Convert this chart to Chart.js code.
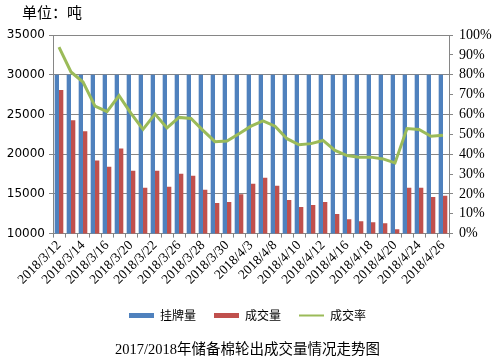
<!DOCTYPE html>
<html>
<head>
<meta charset="utf-8">
<script src="https://cdn.jsdelivr.net/npm/chart.js@4.4.0/dist/chart.umd.min.js"></script>
<style>
  html, body { margin: 0; padding: 0; background: #fff; }
  #wrap { width: 495px; height: 362px; position: relative; }
</style>
</head>
<body>
<div id="wrap"><canvas id="chart"></canvas></div>
<script>
// 交易日
const dates = [
    '2018/3/12', '2018/3/13', '2018/3/14', '2018/3/15', '2018/3/16',
    '2018/3/19', '2018/3/20', '2018/3/21', '2018/3/22', '2018/3/23',
    '2018/3/26', '2018/3/27', '2018/3/28', '2018/3/29', '2018/3/30',
    '2018/4/2', '2018/4/3', '2018/4/4', '2018/4/8', '2018/4/9',
    '2018/4/10', '2018/4/11', '2018/4/12', '2018/4/13', '2018/4/16',
    '2018/4/17', '2018/4/18', '2018/4/19', '2018/4/20', '2018/4/23',
    '2018/4/24', '2018/4/25', '2018/4/26'
];

// 挂牌量 (吨)
const listed = [
    30000, 30000, 30000, 30000, 30000, 30000, 30000, 30000, 30000, 30000,
    30000, 30000, 30000, 30000, 30000, 30000, 30000, 30000, 30000, 30000,
    30000, 30000, 30000, 30000, 30000, 30000, 30000, 30000, 30000, 30000,
    30000, 30000, 30000
];

// 成交量 (吨)
const traded = [
    28090, 24280, 22880, 19200, 18430, 20720, 17920, 15760, 17920, 15890,
    17540, 17290, 15510, 13860, 13980, 14960, 16270, 17030, 16020, 14240,
    13350, 13600, 13980, 12460, 11820, 11570, 11440, 11310, 10550, 15760,
    15760, 14620, 14750
];

// 成交率 (%)
const rate = [
    93.9, 81.4, 76.3, 64.2, 61.4, 69.5, 60.5, 52.5, 60.2, 53.2,
    58.5, 58.0, 52.0, 46.3, 46.6, 50.3, 54.1, 56.8, 54.1, 47.8,
    44.7, 45.3, 46.9, 41.9, 39.3, 38.5, 38.5, 37.6, 35.6, 52.9,
    52.4, 49.0, 49.5
];

const leftTicks = [10000, 15000, 20000, 25000, 30000, 35000];
const rightTicks = [0, 10, 20, 30, 40, 50, 60, 70, 80, 90, 100];

const axisGray = '#868686';
const cjk = '"Noto Sans CJK SC", sans-serif';
const serif = '"Liberation Serif", "Noto Sans CJK SC", serif';

// "单位：吨" label in the top-left corner
const unitLabel = {
    id: 'unitLabel',
    afterDraw(chart) {
        const ctx = chart.ctx;
        ctx.save();
        ctx.fillStyle = '#000';
        ctx.font = '15px ' + cjk;
        ctx.textBaseline = 'middle';
        ctx.fillText('单位：吨', 22, 12);
        ctx.restore();
    }
};

document.addEventListener('DOMContentLoaded', function() {
    const ctx = document.getElementById('chart').getContext('2d');
    new Chart(ctx, {
        type: 'bar',
        data: {
            labels: dates,
            datasets: [{
                label: '挂牌量',
                data: listed,
                backgroundColor: '#4F81BD',
                borderWidth: 0,
                pointStyle: 'rect',
                yAxisID: 'y',
                order: 2,
                categoryPercentage: 0.72,
                barPercentage: 1.0
            }, {
                label: '成交量',
                data: traded,
                backgroundColor: '#C0504D',
                borderWidth: 0,
                pointStyle: 'rect',
                yAxisID: 'y',
                order: 2,
                categoryPercentage: 0.72,
                barPercentage: 1.0
            }, {
                type: 'line',
                label: '成交率',
                data: rate,
                borderColor: '#9BBB59',
                backgroundColor: '#9BBB59',
                borderWidth: 3,
                pointRadius: 0,
                pointStyle: 'line',
                tension: 0,
                yAxisID: 'y1',
                order: 1
            }]
        },
        options: {
            responsive: true,
            maintainAspectRatio: false,
            animation: false,
            layout: {
                padding: { top: 35, left: 0, right: 0, bottom: 2 }
            },
            plugins: {
                tooltip: { enabled: false },
                legend: {
                    position: 'bottom',
                    labels: {
                        usePointStyle: true,
                        pointStyleWidth: 25,
                        boxHeight: 5,
                        padding: 18,
                        color: '#000',
                        font: { family: cjk, size: 12 },
                        sort: (a, b) => a.datasetIndex - b.datasetIndex,
                        generateLabels: function(chart) {
                            const items = Chart.defaults.plugins.legend.labels.generateLabels(chart);
                            items.forEach(item => {
                                if (item.pointStyle === 'line') item.lineWidth = 2;
                            });
                            return items;
                        }
                    }
                },
                title: {
                    display: true,
                    position: 'bottom',
                    text: '2017/2018年储备棉轮出成交量情况走势图',
                    color: '#000',
                    font: { family: serif, size: 14.5, weight: 'normal' },
                    padding: { top: 10, bottom: 1 }
                }
            },
            scales: {
                x: {
                    offset: true,
                    grid: {
                        offset: true,
                        drawOnChartArea: false,
                        color: axisGray,
                        tickLength: 4
                    },
                    border: { color: axisGray },
                    ticks: {
                        autoSkip: false,
                        minRotation: 45,
                        maxRotation: 45,
                        padding: 0,
                        color: '#000',
                        font: { family: serif, size: 13.5 },
                        callback: function(value, index) {
                            return index % 2 === 0 ? dates[index] : '';
                        }
                    },
                    afterFit: function(scale) { scale.height = 58; }
                },
                y: {
                    position: 'left',
                    min: leftTicks[0],
                    max: leftTicks[leftTicks.length - 1],
                    afterBuildTicks: function(scale) {
                        scale.ticks = leftTicks.map(v => ({ value: v }));
                    },
                    grid: { color: axisGray, tickLength: 4 },
                    border: { color: axisGray },
                    ticks: {
                        padding: 4,
                        color: '#000',
                        font: { family: '"DejaVu Sans", sans-serif', size: 12 },
                        callback: v => String(v)
                    },
                    afterFit: function(scale) { scale.width = 53; }
                },
                y1: {
                    position: 'right',
                    min: rightTicks[0],
                    max: rightTicks[rightTicks.length - 1],
                    afterBuildTicks: function(scale) {
                        scale.ticks = rightTicks.map(v => ({ value: v }));
                    },
                    grid: { drawOnChartArea: false, color: axisGray, tickLength: 4 },
                    border: { color: axisGray },
                    ticks: {
                        padding: 6,
                        color: '#000',
                        font: { family: serif, size: 14 },
                        callback: v => v + '%'
                    },
                    afterFit: function(scale) { scale.width = 46; }
                }
            }
        },
        plugins: [unitLabel]
    });
});
</script>
</body>
</html>
